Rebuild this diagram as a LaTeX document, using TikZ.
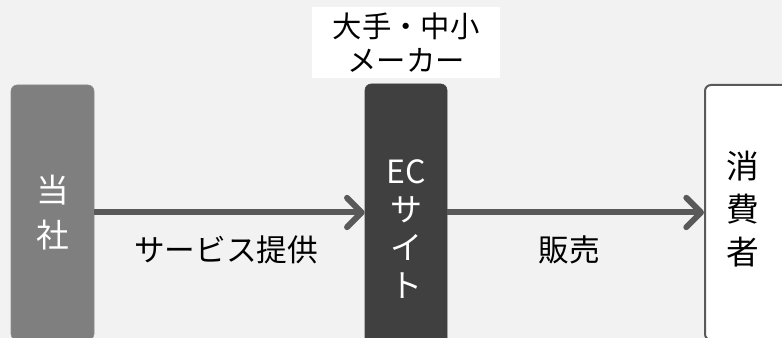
\documentclass[tikz,border=0pt]{standalone}
\usepackage{fontspec}
\setmainfont{Noto Sans CJK JP}
\usetikzlibrary{arrows.meta}
\definecolor{bg}{HTML}{F2F2F2}
\definecolor{boxA}{HTML}{7F7F7F}
\definecolor{boxB}{HTML}{404040}
\definecolor{linec}{HTML}{595959}
\tikzset{
  card/.style={rounded corners=4.5, inner sep=0pt, align=center},
  flow/.style={line width=4.5pt, draw=linec, line cap=butt,
    -{Straight Barb[length=11pt,width=22pt,line cap=round,line join=round]}},
  lbl/.style={font=\fontsize{23}{28}\selectfont, text=black}
}
\begin{document}
\begin{tikzpicture}[x=0.75pt,y=-0.75pt]
\useasboundingbox (0,0) rectangle (782,338);
\fill[bg] (0,0) rectangle (782,338);
\clip (0,0) rectangle (782,338);
\node[card, fill=boxA, draw=boxA!90!white, text=white, minimum width=83*0.75pt, minimum height=255*0.75pt,
  font=\fontsize{24.5}{34}\selectfont] (a) at (52.5,212.5) {当\\社};
\node[card, fill=boxB, draw=boxB, text=white, minimum width=82*0.75pt, minimum height=290*0.75pt,
  font=\fontsize{24}{28.5}\selectfont] (b) at (406,229) {EC\\サ\\イ\\ト};
\node[card, fill=white, draw=linec, line width=1.5pt, text=black, minimum width=120*0.75pt, minimum height=255*0.75pt,
  anchor=west] (c) at (704,212.5) {};
\node[text=black, font=\fontsize{24.5}{32.5}\selectfont, align=center] (ct) at (743,209) {消\\費\\者};
\node[fill=white, inner sep=0pt, minimum width=188*0.75pt, minimum height=71*0.75pt, align=center,
  font=\fontsize{22}{26}\selectfont] (m) at (406,42.5) {大手・中小\\メーカー};
\draw[flow] (a.east) -- (a.east -| b.west);
\draw[flow] (b.east |- c.west) -- (c.west);
\node[lbl] (t1) at (226,250) {サービス提供};
\node[lbl] (t2) at (569,250) {販売};
\end{tikzpicture}
\end{document}
